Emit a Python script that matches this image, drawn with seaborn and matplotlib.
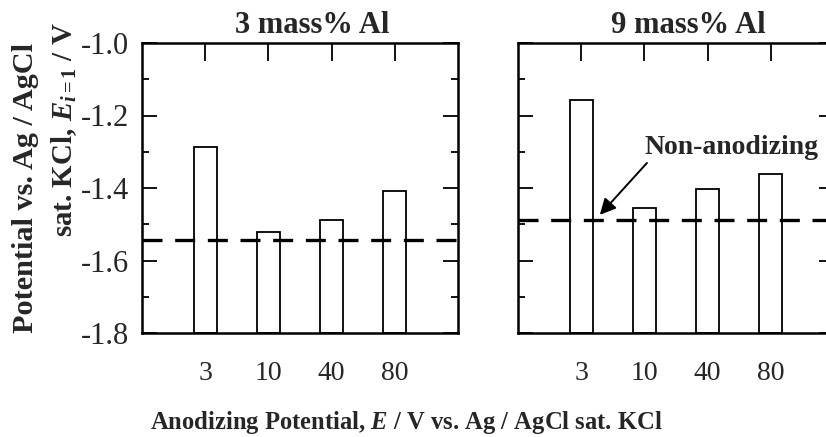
import matplotlib
matplotlib.use("Agg")
import matplotlib.pyplot as plt
from matplotlib.ticker import MultipleLocator
import seaborn as sns
import pandas as pd

# Anodizing potentials (V) and the resulting potentials E_{i=1} (V vs. Ag/AgCl sat. KCl)
anodizing_potentials = ["3", "10", "40", "80"]
potential_3al = [-1.287, -1.520, -1.488, -1.407]
potential_9al = [-1.157, -1.454, -1.403, -1.362]
non_anodized_3al = -1.543
non_anodized_9al = -1.489
panel_titles = ["3 mass% Al", "9 mass% Al"]

y_min, y_max = -1.8, -1.0

sns.set_theme(style="ticks")
plt.rcParams["font.family"] = ["Liberation Serif", "DejaVu Serif"]
plt.rcParams["mathtext.fontset"] = "custom"
plt.rcParams["mathtext.it"] = "Liberation Serif:italic:bold"
plt.rcParams["mathtext.rm"] = "Liberation Serif:bold"
plt.rcParams["mathtext.bf"] = "Liberation Serif:bold"

W, H = 826, 437
fig = plt.figure(figsize=(W / 100, H / 100), dpi=100)
ax_left = fig.add_axes([142 / W, 104 / H, 316 / W, 290 / H])
ax_right = fig.add_axes([518 / W, 104 / H, 316 / W, 290 / H])

panels = [
    (ax_left, potential_3al, non_anodized_3al, panel_titles[0]),
    (ax_right, potential_9al, non_anodized_9al, panel_titles[1]),
]

for ax, values, baseline, title in panels:
    df = pd.DataFrame({"E": anodizing_potentials, "potential": values})
    # bars rise from the bottom of the axis up to the measured potential
    df["height"] = df["potential"] - y_min
    sns.barplot(data=df, x="E", y="height", ax=ax, bottom=y_min, width=0.36,
                color="white", edgecolor="black", linewidth=1.3, errorbar=None,
                zorder=2)
    ax.axhline(baseline, color="black", lw=2.4, dashes=(6, 3.8), zorder=3)

    ax.set_xlim(-1, 4)
    ax.set_ylim(y_min, y_max)
    ax.set_xlabel("")
    ax.set_ylabel("")
    ax.yaxis.set_major_locator(MultipleLocator(0.2))
    ax.yaxis.set_minor_locator(MultipleLocator(0.1))
    ax.tick_params(axis="both", which="both", direction="in", top=True, right=True,
                   color="black")
    ax.tick_params(axis="x", which="major", length=13, width=1.3, pad=20,
                   labelsize=20)
    ax.tick_params(axis="y", which="major", length=11, width=1.3, pad=9,
                   labelsize=22)
    ax.tick_params(axis="y", which="minor", length=5, width=1.3)
    ax.tick_params(axis="x", which="minor", bottom=False, top=False)
    for spine in ax.spines.values():
        spine.set_visible(True)
        spine.set_linewidth(1.8)
        spine.set_color("black")
    ax.set_title(title, x=0.54, fontsize=22, fontweight="bold", pad=7)
    ax.set_facecolor("white")

ax_left.set_yticks([-1.8, -1.6, -1.4, -1.2, -1.0])
ax_left.set_yticklabels(["-1.8", "-1.6", "-1.4", "-1.2", "-1.0"])
ax_right.tick_params(axis="y", which="both", labelleft=False)

# label and pointer for the non-anodized reference level
ax_right.text(2.38, -1.287, "Non-anodizing", ha="center", va="center",
              fontsize=20, fontweight="bold")
ax_right.annotate("", xy=(0.295, -1.474), xytext=(1.04, -1.331),
                  arrowprops=dict(arrowstyle="-|>", color="black", lw=1.4,
                                  mutation_scale=24, shrinkA=0, shrinkB=0))

ylab1 = fig.text(26 / W, 1 - 188 / H, "Potential vs. Ag / AgCl", rotation=90,
                 ha="center", va="center", fontsize=22, fontweight="bold")
ylab2 = fig.text(64 / W, 1 - 130 / H, r"sat. KCl, $\mathit{E}_{\mathit{i=1}}$ / V",
                 rotation=90, ha="center", va="center", fontsize=21,
                 fontweight="bold")
xlab = fig.text(406 / W, 1 - 429 / H,
                r"Anodizing Potential, $\mathit{E}$ / V vs. Ag / AgCl sat. KCl",
                ha="center", va="baseline", fontsize=18, fontweight="bold")

# size the axis captions to their intended lengths in pixels
renderer = fig.canvas.get_renderer()
for txt, length, along_x in [(ylab1, 290, False), (ylab2, 215, False),
                             (xlab, 513, True)]:
    for _ in range(3):
        bb = txt.get_window_extent(renderer)
        current = bb.width if along_x else bb.height
        txt.set_fontsize(txt.get_fontsize() * length / current)

fig.savefig("out.png", dpi=100, facecolor="white")
